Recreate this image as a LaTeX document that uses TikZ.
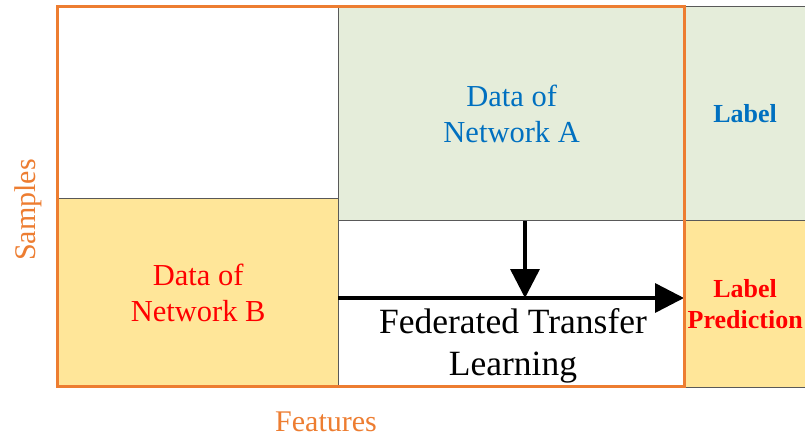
\documentclass[tikz,border=0pt]{standalone}
\usepackage{fontspec}
\setmainfont{Liberation Serif}
\usetikzlibrary{arrows.meta}
\definecolor{orng}{RGB}{237,125,49}
\definecolor{grnfill}{RGB}{229,237,218}
\definecolor{ylwfill}{RGB}{255,230,153}
\definecolor{blu}{RGB}{0,112,192}
\definecolor{edgegray}{RGB}{89,89,89}
\begin{document}
\begin{tikzpicture}[x=1pt,y=-1pt,
  box/.style={draw=edgegray,line width=1.3pt,anchor=north west,inner sep=0pt,align=center},
  bigarrow/.style={line width=3.5pt,-{Triangle[length=29pt,width=29pt]}},
  axislabel/.style={text=orng,font=\fontsize{30}{34}\selectfont}]
\useasboundingbox (0,0) rectangle (805,439);
\node[box,fill=grnfill,minimum width=346pt,minimum height=214pt,text=blu,
  font=\fontsize{30.5}{36}\selectfont] (A) at (338,6) {Data of\\Network A};
\node[box,fill=grnfill,minimum width=121pt,minimum height=214pt,text=blu,
  font=\bfseries\fontsize{26}{30}\selectfont] (L) at (684,6) {Label};
\node[box,fill=ylwfill,minimum width=281pt,minimum height=188pt,text=red,
  font=\fontsize{30.5}{36}\selectfont] (B) at (57,198) {Data of\\Network B};
\node[box,fill=ylwfill,minimum width=121pt,minimum height=167pt,text=red,
  font=\bfseries\fontsize{26}{31}\selectfont] (LP) at (684,220) {Label\\Prediction};
\node[box,draw=edgegray,minimum width=346pt,minimum height=166pt] (W) at (338,220) {};
\coordinate (m) at (525,298);
\coordinate (hs) at (338,298);
\draw[bigarrow] (A.south -| m) -- (m);
\draw[bigarrow] (hs) -- (hs -| LP.west);
\node[align=center,font=\fontsize{35.5}{41.5}\selectfont,anchor=north] (F) at (513,305) {Federated Transfer\\Learning};
\draw[orng,line width=3pt] (57,6) rectangle (684,386);
\node[axislabel,rotate=90] (S) at (28,210) {Samples};
\node[axislabel] (Fe) at (326,422) {Features};
\end{tikzpicture}
\end{document}
